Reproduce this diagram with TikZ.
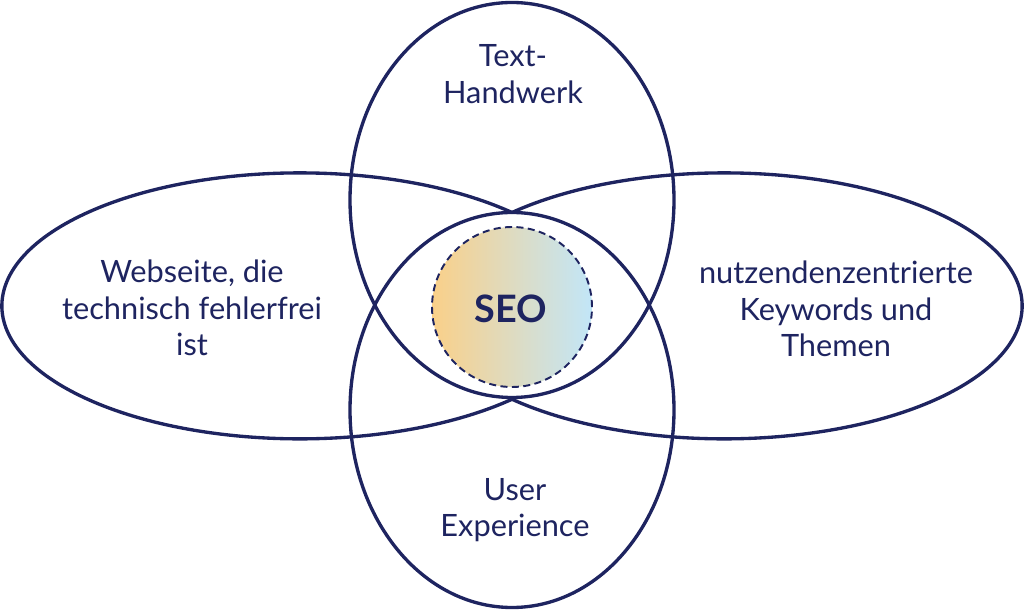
\documentclass[tikz,border=0pt]{standalone}
\usepackage{fontspec}
\setmainfont{Lato}
\usepackage{tikz}
\definecolor{seonavy}{HTML}{1E2460}
\definecolor{seoorange}{HTML}{FAD089}
\definecolor{seoblue}{HTML}{C2E6F8}

\begin{document}
\begin{tikzpicture}[x=0.02cm,y=0.02cm,
  venn/.style={draw=seonavy,line width=1.9pt},
  venntext/.style={text=seonavy,align=center,font=\fontsize{17.5}{20.8}\selectfont}]
  \useasboundingbox (0,0) rectangle (1024,612);
  \shade[left color=seoorange,right color=seoblue] (512,305) circle (80);
  \draw[seonavy,line width=1.1pt,dash pattern=on 4pt off 2.5pt] (512,305) circle (80);
  \coordinate (apexT) at (512,399.5);
  \coordinate (apexB) at (512,214.5);
  \draw[venn] (512,412) ellipse [x radius=162,y radius=197.5];
  \draw[venn] (512,202) ellipse [x radius=162,y radius=197.5];
  \draw[venn] (apexT) arc[start angle=44.6,end angle=315.4,x radius=298,y radius=133];
  \draw[venn] (apexT) arc[start angle=135.4,end angle=-135.4,x radius=298,y radius=133];
  \node[venntext] (handwerk) at (513,538) {Text-\\Handwerk};
  \node[venntext] (ux) at (515,102) {User\\Experience};
  \node[venntext] (webseite) at (192,304) {Webseite, die\\technisch fehlerfrei\\ist};
  \node[venntext] (keywords) at (836,303) {nutzendenzentrierte\\Keywords und\\Themen};
  \node[text=seonavy,font=\bfseries\fontsize{21.5}{25}\selectfont] (seo) at (511,303) {SEO};
\end{tikzpicture}
\end{document}
